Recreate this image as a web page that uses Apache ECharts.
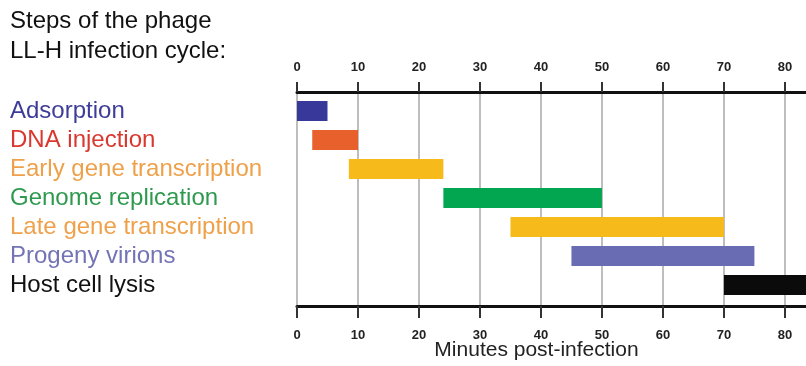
<!DOCTYPE html>
<html>
<head>
<meta charset="utf-8">
<script src="https://cdn.jsdelivr.net/npm/echarts@6/dist/echarts.min.js"></script>
<style>html,body{margin:0;padding:0;background:#fff;}#c{width:806px;height:366px;}</style>
</head>
<body>
<div id="c"></div>
<script>
var steps = ['Adsorption','DNA injection','Early gene transcription','Genome replication','Late gene transcription','Progeny virions','Host cell lysis'];
var startMin = [0, 2.5, 8.5, 24, 35, 45, 70];
var endMin = [5, 10, 24, 50, 70, 75, 90];
var barColors = ['#38379a','#e8602c','#f6bb1b','#03a650','#f6bb1b','#6a6cb3','#0b0b0b'];
var labelColors = ['#3d3d99','#d9382e','#eea14a','#2f9a4f','#eea14a','#7373b5','#111111'];
var xMin = 0, xMax = 85.1, xStep = 10;
var titleText = 'Steps of the phage\nLL-H infection cycle:';
var axisTitle = 'Minutes post-infection';

var chart = echarts.init(document.getElementById('c'));
var rich = {};
steps.forEach(function(s, i){ rich['c'+i] = {color: labelColors[i], fontSize: 24, fontFamily: 'Arial, Liberation Sans, sans-serif'}; });

var tickLabel = {fontSize: 13, fontWeight: 'bold', color: '#222', fontFamily: 'Arial, Liberation Sans, sans-serif'};

var option = {
  animation: false,
  backgroundColor: '#ffffff',
  title: {
    text: titleText, left: 10, top: 6, padding: 0,
    textStyle: {fontSize: 24, fontWeight: 'normal', color: '#111', lineHeight: 30, fontFamily: 'Arial, Liberation Sans, sans-serif'}
  },
  grid: [
    {left: 297, width: 519, top: 92, height: 214, outerBoundsMode: 'none', containLabel: false},
    {left: 297, width: 519, top: 96.5, height: 203, outerBoundsMode: 'none', containLabel: false}
  ],
  xAxis: [
    {gridIndex: 0, type: 'value', position: 'bottom', min: xMin, max: xMax, interval: xStep,
     axisLine: {show: true, lineStyle: {color: '#111', width: 3}},
     axisTick: {show: true, inside: false, length: 12, lineStyle: {color: '#333', width: 2}},
     axisLabel: Object.assign({margin: 23, showMaxLabel: false}, tickLabel),
     splitLine: {show: true, lineStyle: {color: '#a8a8a8', width: 1.5}},
     name: axisTitle, nameLocation: 'middle', nameGap: 34, nameMoveOverlap: false,
     nameTextStyle: {fontSize: 21, color: '#222', fontFamily: 'Arial, Liberation Sans, sans-serif', padding: [0, 40, 0, 0]}
    },
    {gridIndex: 0, type: 'value', position: 'top', min: xMin, max: xMax, interval: xStep,
     axisLine: {show: true, lineStyle: {color: '#111', width: 3}},
     axisTick: {show: true, inside: false, length: 10, lineStyle: {color: '#333', width: 2}},
     axisLabel: Object.assign({margin: 18, showMaxLabel: false}, tickLabel),
     splitLine: {show: false}
    },
    {gridIndex: 1, type: 'value', min: xMin, max: xMax, show: false}
  ],
  yAxis: [
    {gridIndex: 0, type: 'value', show: false},
    {gridIndex: 1, type: 'category', data: steps, inverse: true,
     axisLine: {show: false}, axisTick: {show: false}, splitLine: {show: false},
     axisLabel: {align: 'left', margin: 287, rich: rich,
       formatter: function(v){ var i = steps.indexOf(v); return '{c'+i+'|'+v+'}'; }}
    }
  ],
  series: [{
    type: 'custom', xAxisIndex: 2, yAxisIndex: 1,
    data: steps.map(function(s, i){ return [startMin[i], endMin[i], i]; }),
    encode: {x: [0, 1], y: 2},
    renderItem: function(params, api){
      var i = api.value(2);
      var p0 = api.coord([api.value(0), i]);
      var p1 = api.coord([api.value(1), i]);
      var h = 20;
      var rect = echarts.graphic.clipRectByRect(
        {x: p0[0], y: p0[1] - h/2, width: p1[0] - p0[0], height: h},
        {x: params.coordSys.x, y: params.coordSys.y - 20, width: params.coordSys.width, height: params.coordSys.height + 40}
      );
      return rect && {type: 'rect', shape: rect, style: {fill: barColors[i]}};
    }
  }]
};
chart.setOption(option);
</script>
</body>
</html>
